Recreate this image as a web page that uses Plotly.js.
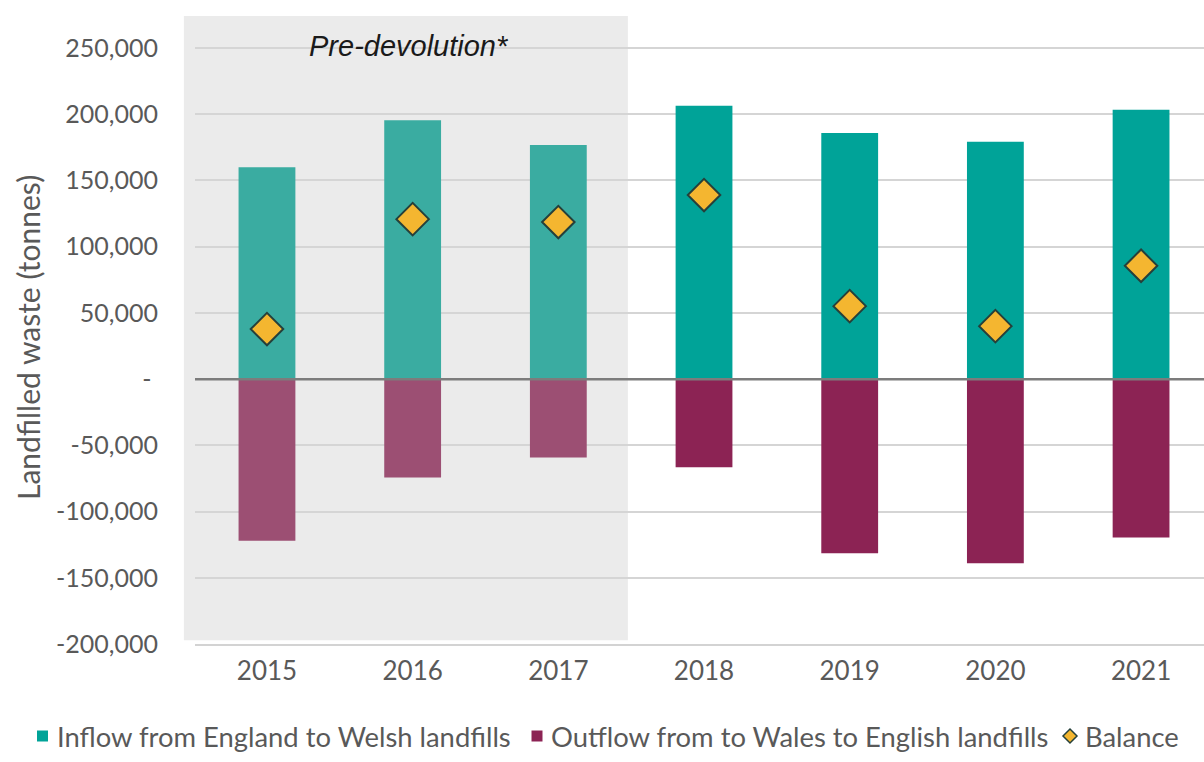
<!DOCTYPE html>
<html>
<head>
<meta charset="utf-8">
<script src="https://cdn.plot.ly/plotly-3.0.1.min.js"></script>
<style>
  html, body { margin: 0; padding: 0; background: #ffffff; }
  #chart { width: 1204px; height: 762px; }
</style>
</head>
<body>
<div id="chart"></div>
<script>
// ---- Data ----
const years = ['2015', '2016', '2017', '2018', '2019', '2020', '2021'];
const inflowEngToWales = [160000, 195500, 176700, 206500, 185800, 179300, 203500];
const outflowWalesToEng = [-122000, -74300, -59100, -66500, -131500, -139000, -119500];
const balance = [37800, 120800, 118600, 139000, 55100, 40000, 85600];
const preDevolutionYears = ['2015', '2016', '2017'];
const yTickValues = [-200000, -150000, -100000, -50000, 0, 50000, 100000, 150000, 200000, 250000];
const seriesNames = ['Inflow from England to Welsh landfills', 'Outflow from to Wales to English landfills', 'Balance'];

// ---- Styling ----
const FONT = 'Lato, "Open Sans", sans-serif';
const GREY_TEXT = '#595959';
const tealPre = '#3aaca1', tealPost = '#00a398';
const plumPre = '#9c4f73', plumPost = '#8c2354';
const gold = '#f4b630', diamondEdge = '#25403b';

const isPre = years.map(y => preDevolutionYears.includes(y));
const yTickText = yTickValues.map(v => v === 0 ? '-\u00a0' : v.toLocaleString('en-US'));

// plot area geometry (pixels) used to place the hand-made legend below the x axis
const PL = 195, PW = 1009, PB = 644, PH = 628;
const px = p => (p - PL) / PW;
const py = p => (PB - p) / PH;
const legendY = 736;

const traces = [
  {
    type: 'bar', name: seriesNames[0],
    x: years, y: inflowEngToWales, width: 0.39,
    marker: { color: isPre.map(p => p ? tealPre : tealPost), line: { width: 0 } },
    hoverinfo: 'x+y'
  },
  {
    type: 'bar', name: seriesNames[1],
    x: years, y: outflowWalesToEng, width: 0.39,
    marker: { color: isPre.map(p => p ? plumPre : plumPost), line: { width: 0 } },
    hoverinfo: 'x+y'
  },
  {
    type: 'scatter', mode: 'markers', name: seriesNames[2],
    x: years, y: balance,
    marker: { symbol: 'diamond', size: 25, color: gold, line: { color: diamondEdge, width: 2 } },
    hoverinfo: 'x+y'
  }
];

const legendSymbols = [
  { type: 'rect', xref: 'paper', yref: 'paper', xsizemode: 'pixel', ysizemode: 'pixel',
    xanchor: px(42.5), yanchor: py(legendY), x0: -5.5, x1: 5.5, y0: -5.5, y1: 5.5,
    fillcolor: tealPost, line: { width: 0 } },
  { type: 'rect', xref: 'paper', yref: 'paper', xsizemode: 'pixel', ysizemode: 'pixel',
    xanchor: px(537), yanchor: py(legendY), x0: -5.5, x1: 5.5, y0: -5.5, y1: 5.5,
    fillcolor: plumPost, line: { width: 0 } },
  { type: 'path', xref: 'paper', yref: 'paper', xsizemode: 'pixel', ysizemode: 'pixel',
    xanchor: px(1070), yanchor: py(legendY), path: 'M -7 0 L 0 7 L 7 0 L 0 -7 Z',
    fillcolor: gold, line: { color: diamondEdge, width: 1.5 } }
];

const legendTextStarts = [55, 549, 1083];
const legendLabels = seriesNames.map((name, i) => ({
  text: name, xref: 'paper', yref: 'paper', x: px(legendTextStarts[i]), y: py(legendY),
  xanchor: 'left', yanchor: 'middle', showarrow: false,
  font: { family: FONT, size: 27.4, color: GREY_TEXT }
}));

const layout = {
  width: 1204, height: 762,
  margin: { l: PL, r: 0, t: 16, b: 118 },
  paper_bgcolor: '#ffffff', plot_bgcolor: 'rgba(0,0,0,0)',
  barmode: 'relative',
  font: { family: FONT, color: GREY_TEXT },
  showlegend: false,
  xaxis: {
    type: 'category', range: [-0.494, 6.432],
    showgrid: false, zeroline: false,
    showline: true, linecolor: '#d3d3d3', linewidth: 2,
    ticks: '', tickfont: { family: FONT, size: 26, color: GREY_TEXT },
    ticklabelstandoff: 3
  },
  yaxis: {
    range: [-200000, 274200],
    tickvals: yTickValues, ticktext: yTickText,
    tickfont: { family: FONT, size: 25, color: GREY_TEXT },
    ticks: '', ticklabelstandoff: 36,
    showgrid: true, gridcolor: '#d5d5d5', gridwidth: 2,
    zeroline: false, showline: false
  },
  shapes: [
    { type: 'rect', xref: 'paper', yref: 'paper', x0: -0.011, x1: 0.429, y0: 0.006, y1: 1,
      fillcolor: '#ebebeb', line: { width: 0 }, layer: 'below' },
    { type: 'line', xref: 'paper', yref: 'y', x0: 0, x1: 1, y0: 0, y1: 0,
      line: { color: '#7c7c7c', width: 2.5 }, layer: 'above' }
  ].concat(legendSymbols),
  annotations: [
    { text: '<i>Pre-devolution*</i>', xref: 'paper', yref: 'paper',
      x: px(409), y: py(46), xanchor: 'center', yanchor: 'middle',
      showarrow: false, font: { family: '"Liberation Sans", Arial, sans-serif', size: 29, color: '#1a1a1a' } },
    { text: 'Landfilled waste (tonnes)', xref: 'paper', yref: 'paper',
      x: px(28), y: py(338), xanchor: 'center', yanchor: 'middle',
      textangle: -90, showarrow: false, font: { family: FONT, size: 30, color: GREY_TEXT } }
  ].concat(legendLabels),
  hovermode: 'closest'
};

Plotly.newPlot('chart', traces, layout, { displayModeBar: false, staticPlot: true });
</script>
</body>
</html>
